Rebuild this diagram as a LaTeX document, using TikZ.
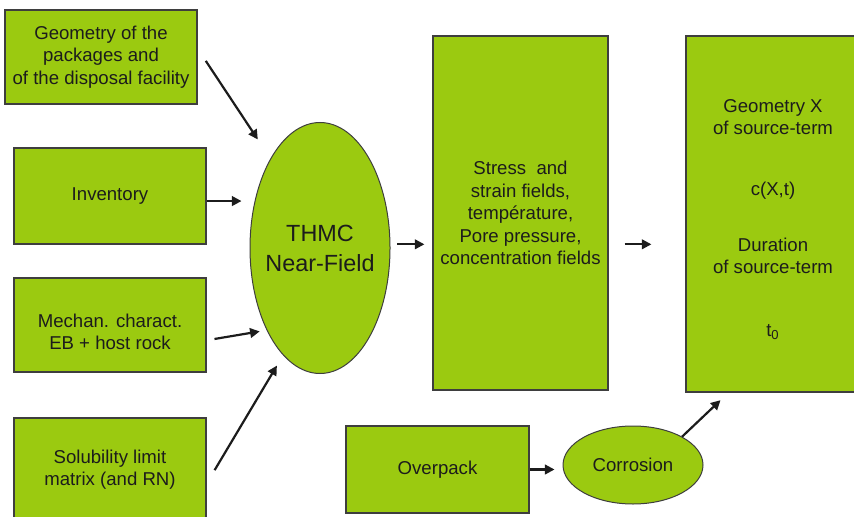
\documentclass[tikz,border=0pt]{standalone}
\usepackage{fontspec}
\setmainfont{Liberation Sans}
\usepackage{tikz}
\usetikzlibrary{shapes.geometric,arrows.meta}
\definecolor{leaf}{RGB}{155,202,16}
\definecolor{edge}{RGB}{62,62,62}
\definecolor{ink}{RGB}{28,28,28}
\tikzset{box/.style={draw=edge,line width=0.6pt,fill=leaf,text=ink,align=center,inner sep=0pt,font=\fontsize{9.3}{11.1}\selectfont},
  blob/.style={ellipse,draw=edge,line width=0.5pt,fill=leaf,text=ink,inner sep=0pt},
  arr/.style={draw=ink,line width=1.1pt,-{Triangle[length=4.8pt,width=4.8pt]}}}

\begin{document}
\begin{tikzpicture}[x=0.5pt,y=-0.5pt]
                \useasboundingbox (0,0) rectangle (854,517);
                % inputs on the left
                \node[box,minimum width=96pt,minimum height=47pt] (geom) at (101,57) {Geometry of the\\packages and\\of the disposal facility};
                \node[box,minimum width=96pt,minimum height=48pt] (inv) at (110,196) {Inventory};
                \node[box,minimum width=96pt,minimum height=47pt] (mech) at (110,325) {};
                \node[box,draw=none,fill=none] (mechtext) at (110,332) {Mechan. charact.\\EB + host rock};
                \node[box,minimum width=96pt,minimum height=52pt] (sol) at (110,470) {Solubility limit\\matrix (and RN)};
                % near-field model
                \node[blob,minimum width=70pt,minimum height=125.5pt] (thmc) at (320,248) {};
                \node[align=center,text=ink,font=\fontsize{11.7}{15}\selectfont] (thmctext) at (thmc) {THMC\\Near-Field};
                \node[box,minimum width=87.5pt,minimum height=177pt,font=\fontsize{9.3}{11.25}\selectfont] (stress) at (520.5,213) {Stress\ \ and\\strain fields,\\température,\\Pore pressure,\\concentration fields};
                % source term
                \node[box,minimum width=87pt,minimum height=178pt] (geox) at (773,214) {};
                \node[box,draw=none,fill=none] (gx1) at (773,117.5) {Geometry X\\of source-term};
                \node[box,draw=none,fill=none] (gx2) at (773,191) {c(X,t)};
                \node[box,draw=none,fill=none] (gx3) at (773,256) {Duration\\of source-term};
                \node[box,draw=none,fill=none] (gx4) at (773,332) {t\textsubscript{0}};
                \node[box,minimum width=91.5pt,minimum height=43.5pt] (over) at (437.5,469.5) {Overpack};
                \node[blob,minimum width=70pt,minimum height=39pt,font=\fontsize{9.3}{11.1}\selectfont] (corr) at (633,465) {Corrosion};
                % arrows, all kept short of the shapes
                \draw[arr,shorten <=7.4pt,shorten >=11.4pt] (geom.5) -- (thmc.119);
                \draw[arr,shorten >=4pt] (inv.-3) -- (inv.-3 -| thmc.west);
                \draw[arr,shorten <=4pt,shorten >=3.5pt] (mech.-9) -- (thmc.237);
                \draw[arr,shorten <=7.8pt,shorten >=6pt] (sol.-8) -- (thmc.251);
                \draw[arr,shorten <=3.5pt,shorten >=4pt] (thmc.3) -- (thmc.3 -| stress.west);
                \draw[arr,shorten <=8pt,shorten >=17pt] (thmc.3 -| stress.east) -- (thmc.3 -| geox.west);
                \draw[arr,shorten >=4pt] (over.east) -- (over.east -| corr.west);
                \draw[arr,shorten >=5.5pt] (corr.30) -- (geox.256);
            \end{tikzpicture}
\end{document}
